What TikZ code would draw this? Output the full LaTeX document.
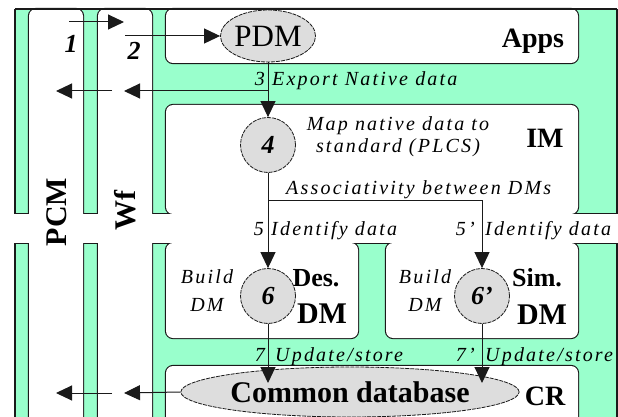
\documentclass[tikz,border=0pt]{standalone}
\usepackage{fontspec}
\setmainfont{Liberation Serif}
\newfontfamily\spaced[LetterSpace=11]{Liberation Serif}
\usetikzlibrary{arrows.meta,shapes.geometric}
\definecolor{mint}{HTML}{99FFCC}
\definecolor{bubble}{HTML}{DDDDDD}
\definecolor{ink}{HTML}{1A1A1A}

% rounded white panels: two swim-lane columns and the five layer boxes
\newcommand\panelpaths{%
  (29,9) rectangle (83,440)
  (98,9) rectangle (152,440)
  (166,9) rectangle (578,63)
  (166,105) rectangle (578,214)
  (166,243) rectangle (358,338)
  (386,243) rectangle (578,338)
  (166,366) rectangle (578,440)}

\begin{document}
\begin{tikzpicture}[x=1pt,y=-1pt,
  note/.style={font=\spaced\itshape\fontsize{20}{22}\selectfont, inner sep=0pt},
  tag/.style={font=\bfseries\fontsize{28}{30}\selectfont, inner sep=0pt},
  num/.style={font=\bfseries\itshape\fontsize{26}{28}\selectfont, inner sep=0pt},
  proc/.style={circle, draw=ink, dash pattern=on 4pt off 1pt, line width=0.8pt,
    fill=bubble, minimum size=55pt, inner sep=0pt,
    font=\bfseries\itshape\fontsize{26}{28}\selectfont},
  store/.style={ellipse, draw=ink, dash pattern=on 4pt off 1pt, line width=0.8pt,
    fill=bubble, inner sep=0pt},
  flow/.style={draw=ink, line width=1pt, -{Triangle[length=16pt,width=15pt]}},
]
\useasboundingbox (0,0) rectangle (618,417);
\clip (0,0) rectangle (618,417);

% green background and its side edges
\fill[mint] (15,9) rectangle (617,440);
\draw[ink, line width=1.1pt] (15,9) -- (15,440) (617,9) -- (617,440);

% outlines first, then white fills on top so only the outer contour stays
\draw[ink, line width=2.2pt, rounded corners=7pt] \panelpaths;
\draw[ink, line width=2.2pt] (15,214) -- (617,214) (15,243) -- (617,243);
\fill[white, rounded corners=7pt] \panelpaths;
\fill[white] (13,214) rectangle (619,243);
\draw[ink, line width=1.1pt] (15,9) -- (617,9);

% lane titles
\node[tag, font=\bfseries\fontsize{30}{32}\selectfont, rotate=90] (pcm) at (57,212) {PCM};
\node[tag, font=\bfseries\fontsize{30}{32}\selectfont, rotate=90] (wf) at (125,211) {Wf};

% layer titles
\node[tag, anchor=base] (apps) at (533,48) {Apps};
\node[tag, anchor=base] (im) at (545,147) {IM};
\node[tag, anchor=base, font=\bfseries\fontsize{26}{28}\selectfont] (des) at (316,286) {Des.};
\node[tag, anchor=base, font=\bfseries\fontsize{30}{32}\selectfont] (desdm) at (322,323) {DM};
\node[tag, anchor=base, font=\bfseries\fontsize{26}{28}\selectfont] (sim) at (537,286) {Sim.};
\node[tag, anchor=base, font=\bfseries\fontsize{30}{32}\selectfont] (simdm) at (542,324) {DM};
\node[tag, anchor=base] (cr) at (545,405) {CR};

% data stores and process steps
\node[store, minimum width=95pt, minimum height=52pt,
  font=\fontsize{31}{33}\selectfont] (pdm) at (268,36) {PDM};
\node[store, minimum width=314pt, minimum height=50pt,
  font=\bfseries\fontsize{30}{32}\selectfont] (db) at (350,392) {Common database};
\node[proc] (c4) at (268,145) {4};
\node[proc] (c6) at (268,296) {6};
\node[proc] (c6p) at (482,296) {6’};

% step numbers in the lanes
\node[num, anchor=base] (n1) at (71,53) {1};
\node[num, anchor=base] (n2) at (134,60) {2};

% annotations
\node[note, anchor=base east] (t3) at (265,86) {3};
\node[note, anchor=base west] (t3b) at (272,86) {Export Native data};
\node[note, anchor=base] (map1) at (398,131) {Map native data to};
\node[note, anchor=base] (map2) at (398,153) {standard (PLCS)};
\node[note, anchor=base west] (assoc) at (286,194) {Associativity between DMs};
\node[note, anchor=base east] (t5) at (264,235) {5};
\node[note, anchor=base west] (t5b) at (271,235) {Identify data};
\node[note, anchor=base east] (t5p) at (475,235) {5’};
\node[note, anchor=base west] (t5pb) at (485,235) {Identify data};
\node[note, anchor=base] (bd1) at (207,283) {Build};
\node[note, anchor=base] (bd2) at (207,311) {DM};
\node[note, anchor=base] (bs1) at (425,283) {Build};
\node[note, anchor=base] (bs2) at (425,311) {DM};
\node[note, anchor=base east] (t7) at (265,361) {7};
\node[note, anchor=base west] (t7b) at (275,361) {Update/store};
\node[note, anchor=base east] (t7p) at (475,361) {7’};
\node[note, anchor=base west] (t7pb) at (485,361) {Update/store};

% free ends of the connectors
\coordinate (a1s) at (69,22);
\coordinate (a1e) at (124,22);
\coordinate (a2s) at (125,36);
\coordinate (j3) at (268,91);
\coordinate (a3e) at (124,91);
\coordinate (l1s) at (112,91);
\coordinate (l1e) at (56,91);
\coordinate (j4) at (268,200);
\coordinate (j5) at (482,200);
\coordinate (t6) at (268,383);
\coordinate (t6p) at (482,383);
\coordinate (b1e) at (124,393);
\coordinate (b2s) at (112,393);
\coordinate (b2e) at (56,393);

% connectors
\draw[flow] (a1s) -- (a1e);
\draw[flow] (a2s) -- (pdm.west);
\draw[flow] (pdm.south) -- (c4.north);
\draw[flow] (j3) -- (a3e);
\draw[flow] (l1s) -- (l1e);
\draw[flow] (c4.south) -- (c6.north);
\draw[flow] (j4) -- (j5) -- (c6p.north);
\draw[flow] (c6.south) -- (t6);
\draw[flow] (c6p.south) -- (t6p);
\draw[flow] (db.west) -- (b1e);
\draw[flow] (b2s) -- (b2e);
\end{tikzpicture}
\end{document}
